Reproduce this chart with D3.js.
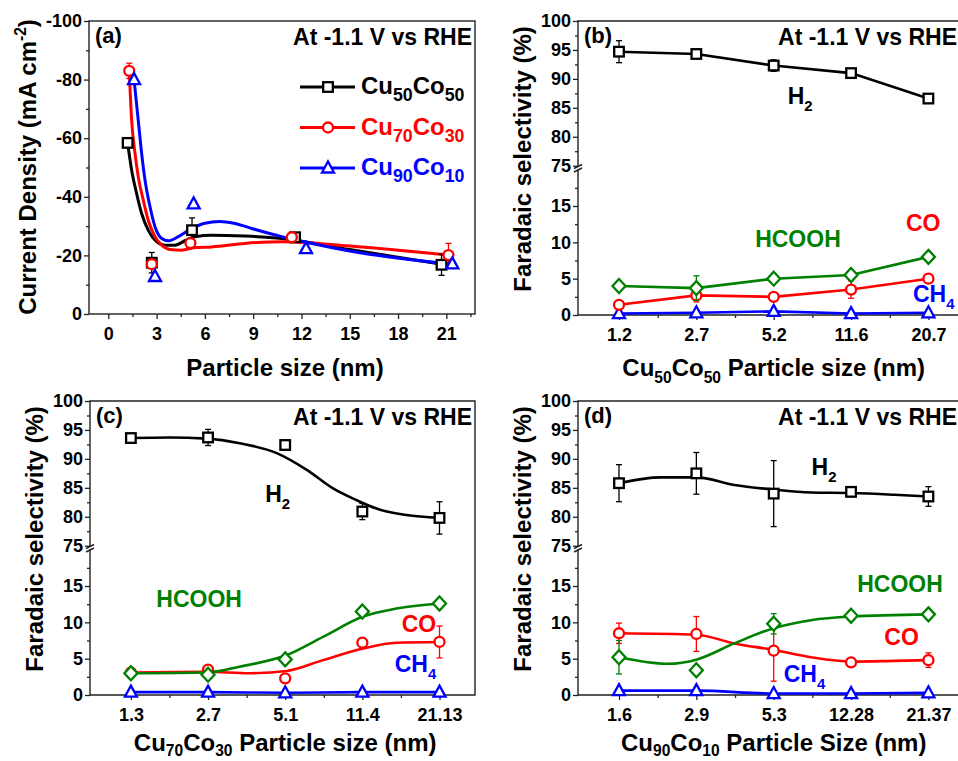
<!DOCTYPE html>
<html>
<head>
<meta charset="utf-8">
<script src="https://cdn.jsdelivr.net/npm/d3@7"></script>
<style>
  body { margin: 0; background: #fff; }
  svg { display: block; }
  text { font-family: Arial, "Liberation Sans", sans-serif; font-weight: bold; }
</style>
</head>
<body>
<script>
// ====== data ====== //

// (a) current density vs particle size
const sizes50 = [1.2, 2.7, 5.2, 11.6, 20.7];
const jd50 = [-58.4, -17.5, -28.6, -26.2, -16.8];
const jdErr50 = [0, 3.5, 4.2, 0, 3.6];
const sizes70 = [1.3, 2.7, 5.1, 11.4, 21.13];
const jd70 = [-83, -17, -24.2, -26.2, -20.1];
const jdErr70 = [2.6, 0, 0, 0, 4.0];
const sizes90 = [1.6, 2.9, 5.3, 12.28, 21.37];
const jd90 = [-80, -12.8, -37.6, -22.3, -17.1];
const jdErr90 = [0, 0, 0, 0, 0];
// fitted curves
const fit50 = [[1.2,-58.4],[1.45,-49.1],[1.76,-41.1],[2.07,-34.3],[2.48,-28.6],[3.0,-24.7],[3.52,-23.5],[4.14,-23.5],[4.76,-25.0],[5.39,-26.4],[6.42,-26.9],[8.49,-26.6],[10.77,-25.8],[15,-22],[20.7,-17]];
const fit70 = [[1.3,-83],[1.45,-66.1],[1.66,-54.8],[1.86,-46.8],[2.17,-38.9],[2.48,-32.0],[2.9,-26.4],[3.32,-23.5],[3.83,-22.0],[4.56,-21.8],[5.39,-22.7],[6.42,-22.9],[8.49,-24.1],[10.87,-24.7],[15,-23.2],[21.13,-20.1]];
const fit90 = [[1.6,-80],[1.86,-66.1],[2.07,-54.8],[2.28,-45.7],[2.59,-36.6],[2.9,-29.8],[3.32,-25.8],[3.73,-25.0],[4.35,-26.4],[5.18,-29.2],[6.0,-31.0],[6.9,-31.6],[7.8,-31.0],[8.91,-29.2],[10.77,-26.4],[12.3,-24.5],[15,-21.5],[21.37,-17]];

// (b) Cu50Co50
const catsB = ['1.2', '2.7', '5.2', '11.6', '20.7'];
const h2B = [94.7, 94.3, 92.3, 91.0, 86.6];
const h2ErrB = [1.9, 0, 1.0, 0, 0];
const hcoohB = [4.0, 3.7, 5.0, 5.5, 8.0];
const hcoohErrB = [0, 1.7, 0, 0, 0];
const coB = [1.4, 2.7, 2.5, 3.5, 5.0];
const coErrB = [0, 0.9, 0, 1.2, 0];
const ch4B = [0.2, 0.3, 0.5, 0.2, 0.3];

// (c) Cu70Co30
const catsC = ['1.3', '2.7', '5.1', '11.4', '21.13'];
const h2C = [93.6, 93.7, 92.4, 80.9, 79.8];
const h2ErrC = [0, 1.4, 0, 1.4, 2.8];
const hcoohC = [3.0, 2.8, 4.9, 11.5, 12.6];
const coC = [3.1, 3.5, 2.3, 7.2, 7.3];
const coErrC = [0, 0, 0, 0, 2.2];
const ch4C = [0.4, 0.4, 0.3, 0.4, 0.4];
const h2FitC = [[0,93.6],[0.5,93.7],[0.98,93.5],[1.41,92.7],[1.89,91.0],[2.28,88.1],[2.62,84.9],[2.92,82.9],[3.23,81.2],[3.57,80.3],[4,79.8]];
const hcoohFitC = [[0,3.0],[0.98,3.1],[1.41,3.9],[2.02,5.5],[2.49,8.0],[3.01,10.8],[3.44,11.9],[4,12.6]];
const coFitC = [[0,3.1],[0.98,3.2],[1.54,3.0],[2.02,3.3],[2.49,4.8],[3.01,6.4],[3.44,7.2],[4,7.3]];

// (d) Cu90Co10
const catsD = ['1.6', '2.9', '5.3', '12.28', '21.37'];
const h2D = [85.8, 87.5, 84.0, 84.3, 83.5];
const h2ErrD = [3.2, 3.6, 5.7, 0, 1.7];
const hcoohD = [5.2, 3.4, 9.8, 10.9, 11.1];
const hcoohErrD = [2.3, 0, 1.4, 0, 0];
const coD = [8.5, 8.4, 6.1, 4.5, 4.8];
const coErrD = [1.4, 2.4, 4.2, 0, 1.0];
const ch4D = [0.6, 0.6, 0.2, 0.2, 0.3];
const h2FitD = [[0,85.8],[0.54,86.8],[1,86.8],[1.49,85.5],[2,84.7],[2.48,84.2],[3,84.1],[3.56,83.8],[4,83.5]];
const hcoohFitD = [[0,5.2],[0.63,4.3],[1.01,4.9],[1.49,7.1],[2,9.2],[2.48,10.3],[3,10.8],[4,11.1]];
const coFitD = [[0,8.5],[1,8.3],[1.49,7.1],[2,6.2],[2.48,5.2],[3,4.6],[3.56,4.7],[4,4.8]];

// ====== setup ====== //
const W = 958, H = 761;
const BLACK = '#000', RED = '#ff0000', BLUE = '#0000ff', GREEN = '#008000';
const FRAME = '#222';

const svg = d3.select('body').append('svg').attr('width', W).attr('height', H);
svg.append('rect').attr('width', W).attr('height', H).attr('fill', '#fff');

// text with sub / superscripts
function rich(t, parts, size, subScale = 0.65, subOff = 0.3) {
  let cur = 0;
  parts.forEach(p => {
    let s;
    if (typeof p === 'string') s = { t: p, off: 0, fs: size };
    else if (p.sub != null) s = { t: p.sub, off: subOff * size, fs: size * subScale };
    else s = { t: p.sup, off: -0.42 * size, fs: size * subScale };
    t.append('tspan').attr('dy', s.off - cur).attr('font-size', s.fs).text(s.t);
    cur = s.off;
  });
  return t;
}

function marker(g, shape, cx, cy, color) {
  const m = g.append('g').attr('transform', `translate(${cx},${cy})`);
  const st = el => el.attr('fill', '#fff').attr('stroke', color).attr('stroke-width', 2.3);
  if (shape === 'square') st(m.append('rect').attr('x', -4.8).attr('y', -4.8).attr('width', 9.6).attr('height', 9.6));
  else if (shape === 'circle') st(m.append('circle').attr('r', 5));
  else if (shape === 'triangle') st(m.append('path').attr('d', 'M0,-6.5L6,4.5L-6,4.5Z'));
  else if (shape === 'diamond') st(m.append('path').attr('d', 'M0,-7L6.5,0L0,7L-6.5,0Z'));
}

function errbar(g, cx, y0, y1, color) {
  const e = g.append('g').attr('stroke', color).attr('stroke-width', 1.3);
  e.append('line').attr('x1', cx).attr('x2', cx).attr('y1', y0).attr('y2', y1);
  e.append('line').attr('x1', cx - 3).attr('x2', cx + 3).attr('y1', y0).attr('y2', y0);
  e.append('line').attr('x1', cx - 3).attr('x2', cx + 3).attr('y1', y1).attr('y2', y1);
}

function styleAxis(sel, fs) {
  sel.select('.domain').remove();
  sel.selectAll('.tick line').attr('stroke', FRAME).attr('stroke-width', 1.3);
  sel.selectAll('.tick text').attr('fill', '#000').attr('font-size', fs)
    .attr('font-family', 'Arial, "Liberation Sans", sans-serif').attr('font-weight', 'bold');
}

function headerTexts(g, box, letter) {
  g.append('text').attr('x', box.left + 6).attr('y', box.top + 22).attr('font-size', 22).text(letter);
  g.append('text').attr('x', Math.min(box.right - 3, W - 1)).attr('y', box.top + 24).attr('text-anchor', 'end')
    .attr('font-size', 23).text('At -1.1 V vs RHE');
}

// ================= PANEL (a) ================= //
function panelA() {
  const box = { left: 89, top: 21, right: 475, bottom: 314 };
  const g = svg.append('g');
  const x = d3.scaleLinear().domain([-1.2, 22.78]).range([box.left, box.right]);
  const y = d3.scaleLinear().domain([0, -100]).range([box.bottom, box.top]);

  g.append('g').attr('transform', `translate(${box.left},0)`)
    .call(d3.axisLeft(y).tickValues([0, -20, -40, -60, -80, -100]).tickSize(5).tickPadding(2).tickFormat(d => String(d)))
    .call(s => styleAxis(s, 18));
  g.append('g').attr('transform', `translate(${box.left},0)`)
    .call(d3.axisLeft(y).tickValues([-10, -30, -50, -70, -90]).tickSize(3).tickFormat(''))
    .call(s => styleAxis(s, 18));
  g.append('g').attr('transform', `translate(0,${box.bottom})`)
    .call(d3.axisBottom(x).tickValues(d3.range(0, 22, 3)).tickSize(5).tickPadding(8).tickFormat(d => String(d)))
    .call(s => styleAxis(s, 18));
  g.append('g').attr('transform', `translate(0,${box.bottom})`)
    .call(d3.axisBottom(x).tickValues(d3.range(1.5, 23, 3)).tickSize(3).tickFormat(''))
    .call(s => styleAxis(s, 18));

  g.append('rect').attr('x', box.left).attr('y', box.top)
    .attr('width', box.right - box.left).attr('height', box.bottom - box.top)
    .attr('fill', 'none').attr('stroke', FRAME).attr('stroke-width', 1.4);

  const line = d3.line().x(d => x(d[0])).y(d => y(d[1])).curve(d3.curveMonotoneX);
  const series = [
    { fit: fit50, xs: sizes50, ys: jd50, err: jdErr50, color: BLACK, shape: 'square', name: ['Cu', { sub: '50' }, 'Co', { sub: '50' }] },
    { fit: fit70, xs: sizes70, ys: jd70, err: jdErr70, color: RED, shape: 'circle', name: ['Cu', { sub: '70' }, 'Co', { sub: '30' }] },
    { fit: fit90, xs: sizes90, ys: jd90, err: jdErr90, color: BLUE, shape: 'triangle', name: ['Cu', { sub: '90' }, 'Co', { sub: '10' }] }
  ];
  series.forEach(s => {
    g.append('path').attr('d', line(s.fit)).attr('fill', 'none').attr('stroke', s.color).attr('stroke-width', 3);
  });
  series.forEach(s => {
    s.xs.forEach((xv, i) => {
      if (s.err[i] > 0) errbar(g, x(xv), y(s.ys[i] - s.err[i]), y(s.ys[i] + s.err[i]), s.color);
      marker(g, s.shape, x(xv), y(s.ys[i]), s.color);
    });
  });

  // legend
  series.forEach((s, k) => {
    const ly = 87 + k * 40.5;
    g.append('line').attr('x1', 300).attr('x2', 355).attr('y1', ly).attr('y2', ly)
      .attr('stroke', s.color).attr('stroke-width', 3);
    marker(g, s.shape, 328, ly, s.color);
    rich(g.append('text').attr('x', 361).attr('y', ly + 7).attr('fill', s.color), s.name, 24, 0.74);
  });

  headerTexts(g, box, '(a)');
  g.append('text').attr('x', 285).attr('y', 376).attr('text-anchor', 'middle').attr('font-size', 24)
    .text('Particle size (nm)');
  rich(g.append('text').attr('transform', `translate(36,${box.top + 146}) rotate(-90)`).attr('text-anchor', 'middle'),
    ['Current Density (mA cm', { sup: '-2' }, ')'], 24);
}

// ============ PANELS (b)(c)(d) ============ //
function fePanel(cfg) {
  const box = cfg.box;
  const g = svg.append('g');
  const x = d3.scaleLinear().domain([-0.53, 4.46]).range([box.left, box.right]);
  const yUp = d3.scaleLinear().domain([75, 100]).range([box.top + 144.7, box.top]);
  const yLo = d3.scaleLinear().domain([0, 20]).range([box.bottom, box.top + 148.7]);

  const ax = (scale, vals, size, fmt) => g.append('g').attr('transform', `translate(${box.left},0)`)
    .call(d3.axisLeft(scale).tickValues(vals).tickSize(size).tickPadding(2).tickFormat(fmt))
    .call(s => styleAxis(s, 18));
  ax(yUp, [75, 80, 85, 90, 95, 100], 5, d => String(d));
  ax(yUp, [77.5, 82.5, 87.5, 92.5, 97.5], 3, '');
  ax(yLo, [0, 5, 10, 15], 5, d => String(d));
  ax(yLo, [2.5, 7.5, 12.5, 17.5], 3, '');
  g.append('g').attr('transform', `translate(0,${box.bottom})`)
    .call(d3.axisBottom(x).tickValues([0, 1, 2, 3, 4]).tickSize(5).tickPadding(8).tickFormat(i => cfg.cats[i]))
    .call(s => styleAxis(s, 18));
  g.append('g').attr('transform', `translate(0,${box.bottom})`)
    .call(d3.axisBottom(x).tickValues([0.5, 1.5, 2.5, 3.5]).tickSize(3).tickFormat(''))
    .call(s => styleAxis(s, 18));

  // frame with broken left axis
  const fr = g.append('g').attr('stroke', FRAME).attr('stroke-width', 1.4).attr('fill', 'none');
  fr.append('path').attr('d', `M${box.left},${box.top + 145.5}V${box.top}H${box.right}V${box.bottom}H${box.left}V${box.top + 148.5}`);
  fr.append('line').attr('x1', box.left - 4).attr('y1', box.top + 147.5).attr('x2', box.left + 4).attr('y2', box.top + 143.5);
  fr.append('line').attr('x1', box.left - 4).attr('y1', box.top + 151).attr('x2', box.left + 4).attr('y2', box.top + 147);

  const lineFor = ys => d3.line().x(d => x(d[0])).y(d => ys(d[1]));
  cfg.series.forEach(s => {
    const ys = s.upper ? yUp : yLo;
    const pts = s.fit || s.vals.map((v, i) => [i, v]);
    const ln = lineFor(ys).curve(cfg.smooth ? d3.curveMonotoneX : d3.curveLinear);
    g.append('path').attr('d', ln(pts)).attr('fill', 'none').attr('stroke', s.color).attr('stroke-width', 2.6);
  });
  cfg.series.forEach(s => {
    const ys = s.upper ? yUp : yLo;
    s.vals.forEach((v, i) => {
      const e = s.err ? s.err[i] : 0;
      if (e > 0) errbar(g, x(i), ys(v + e), ys(v - e), s.color);
      marker(g, s.shape, x(i), ys(v), s.color);
    });
  });

  cfg.labels.forEach(l => {
    const ys = l.upper ? yUp : yLo;
    rich(g.append('text').attr('x', x(l.i)).attr('y', ys(l.v)).attr('fill', l.color), l.parts, 23);
  });

  headerTexts(g, box, cfg.letter);
  const lowRow = box.bottom + 61 > H - 8;
  rich(g.append('text').attr('x', x(2)).attr('y', lowRow ? H - 10 : box.bottom + 61).attr('text-anchor', 'middle'),
    cfg.xTitle, 24, 0.65, lowRow ? 0.22 : 0.3);
  g.append('text').attr('transform', `translate(${box.left - 47},${box.top + 138}) rotate(-90)`)
    .attr('text-anchor', 'middle').attr('font-size', 24).text('Faradaic selectivity (%)');
}

panelA();

fePanel({
  box: { left: 578, top: 21, right: 964, bottom: 315 },
  letter: '(b)', cats: catsB, smooth: false,
  xTitle: ['Cu', { sub: '50' }, 'Co', { sub: '50' }, ' Particle size (nm)'],
  series: [
    { vals: h2B, err: h2ErrB, color: BLACK, shape: 'square', upper: true },
    { vals: ch4B, color: BLUE, shape: 'triangle' },
    { vals: coB, err: coErrB, color: RED, shape: 'circle' },
    { vals: hcoohB, err: hcoohErrB, color: GREEN, shape: 'diamond' }
  ],
  labels: [
    { parts: ['H', { sub: '2' }], i: 2.18, v: 85.7, upper: true, color: BLACK },
    { parts: ['HCOOH'], i: 1.76, v: 9.3, color: GREEN },
    { parts: ['CO'], i: 3.71, v: 11.5, color: RED },
    { parts: ['CH', { sub: '4' }], i: 3.8, v: 1.8, color: BLUE }
  ]
});

fePanel({
  box: { left: 90, top: 401, right: 475, bottom: 695 },
  letter: '(c)', cats: catsC, smooth: true,
  xTitle: ['Cu', { sub: '70' }, 'Co', { sub: '30' }, ' Particle size (nm)'],
  series: [
    { vals: h2C, err: h2ErrC, fit: h2FitC, color: BLACK, shape: 'square', upper: true },
    { vals: ch4C, color: BLUE, shape: 'triangle' },
    { vals: coC, err: coErrC, fit: coFitC, color: RED, shape: 'circle' },
    { vals: hcoohC, fit: hcoohFitC, color: GREEN, shape: 'diamond' }
  ],
  labels: [
    { parts: ['H', { sub: '2' }], i: 1.74, v: 82.6, upper: true, color: BLACK },
    { parts: ['HCOOH'], i: 0.33, v: 12.15, color: GREEN },
    { parts: ['CO'], i: 3.51, v: 8.7, color: RED },
    { parts: ['CH', { sub: '4' }], i: 3.42, v: 3.2, color: BLUE }
  ]
});

fePanel({
  box: { left: 578, top: 401, right: 964, bottom: 695 },
  letter: '(d)', cats: catsD, smooth: true,
  xTitle: ['Cu', { sub: '90' }, 'Co', { sub: '10' }, ' Particle Size (nm)'],
  series: [
    { vals: h2D, err: h2ErrD, fit: h2FitD, color: BLACK, shape: 'square', upper: true },
    { vals: ch4D, color: BLUE, shape: 'triangle' },
    { vals: coD, err: coErrD, fit: coFitD, color: RED, shape: 'circle' },
    { vals: hcoohD, err: hcoohErrD, fit: hcoohFitD, color: GREEN, shape: 'diamond' }
  ],
  labels: [
    { parts: ['H', { sub: '2' }], i: 2.49, v: 87.2, upper: true, color: BLACK },
    { parts: ['HCOOH'], i: 3.08, v: 14.2, color: GREEN },
    { parts: ['CO'], i: 3.43, v: 6.9, color: RED },
    { parts: ['CH', { sub: '4' }], i: 2.13, v: 1.8, color: BLUE }
  ]
});
</script>
</body>
</html>
